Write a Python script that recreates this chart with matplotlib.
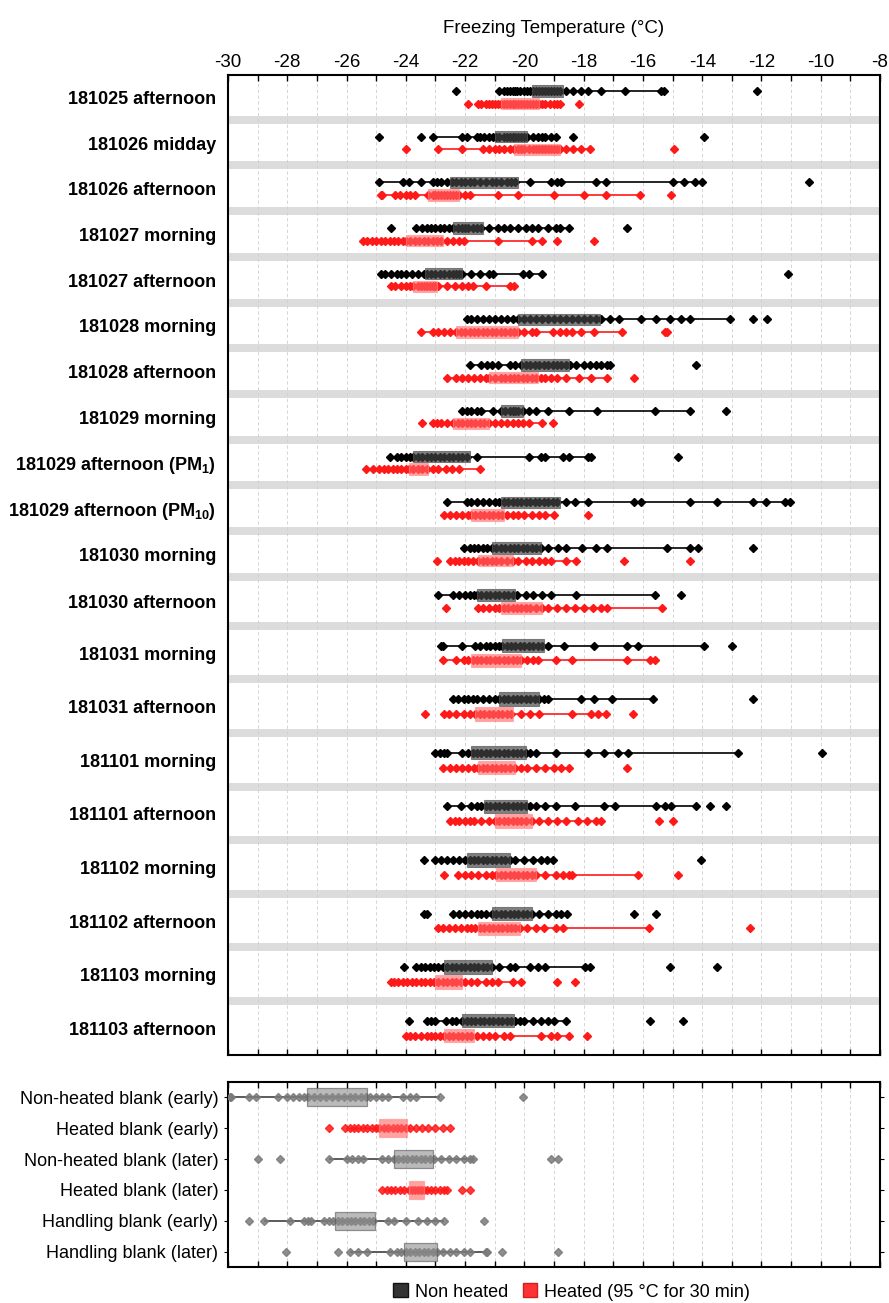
import numpy as np
import matplotlib
matplotlib.use("Agg")
import matplotlib.pyplot as plt
from matplotlib.patches import Patch
from matplotlib.ticker import MultipleLocator

plt.rcParams['font.family'] = ['Liberation Sans', 'DejaVu Sans']
plt.rcParams['axes.unicode_minus'] = False
plt.rcParams['mathtext.fontset'] = 'custom'
plt.rcParams['mathtext.bf'] = 'Liberation Sans:bold'
plt.rcParams['mathtext.rm'] = 'Liberation Sans'
plt.rcParams['mathtext.default'] = 'bf'

# ---- sample rows (top panel) ----
samples = ["181025 afternoon", "181026 midday", "181026 afternoon", "181027 morning",
           "181027 afternoon", "181028 morning", "181028 afternoon", "181029 morning",
           "181029 afternoon (PM$_{1}$)", "181029 afternoon (PM$_{10}$)", "181030 morning",
           "181030 afternoon", "181031 morning", "181031 afternoon", "181101 morning",
           "181101 afternoon", "181102 morning", "181102 afternoon", "181103 morning",
           "181103 afternoon"]

# non heated: box (q1, q3) and whisker ends
nh_q1 = [-19.75, -21.0, -22.5, -22.4, -23.35, -20.2, -20.1, -20.8, -23.75, -20.8,
         -21.1, -21.6, -20.75, -20.85, -21.8, -21.35, -21.95, -21.1, -22.7, -22.1]
nh_q3 = [-18.7, -19.9, -20.2, -21.4, -22.1, -17.45, -18.5, -20.05, -21.85, -18.8,
         -19.45, -20.3, -19.35, -19.5, -19.95, -19.9, -20.5, -19.75, -21.1, -20.35]
nh_lo = [-20.85, -23.1, -24.9, -23.65, -24.85, -21.95, -21.85, -22.1, -24.55, -22.6,
         -22.05, -22.9, -22.8, -22.4, -23.0, -22.6, -23.0, -22.4, -23.65, -23.3]
nh_hi = [-15.3, -18.95, -14.0, -18.5, -19.4, -13.05, -17.1, -14.4, -17.75, -11.05,
         -14.15, -15.6, -13.95, -15.65, -12.8, -14.2, -19.05, -18.55, -17.8, -18.6]

# heated: box (q1, q3) and whisker ends
h_q1 = [-20.8, -20.35, -23.25, -24.0, -23.75, -22.3, -21.2, -22.4, -23.9, -21.8,
        -21.55, -20.8, -21.8, -21.65, -21.55, -21.0, -20.95, -21.55, -23.0, -22.7]
h_q3 = [-19.5, -18.8, -22.2, -22.75, -22.95, -20.2, -19.55, -21.2, -23.25, -20.7,
        -20.4, -19.4, -20.1, -20.4, -20.3, -19.75, -19.6, -20.15, -22.1, -21.7]
h_lo = [-21.6, -22.9, -24.85, -25.45, -24.5, -23.5, -22.6, -23.1, -25.1, -22.7,
        -22.5, -21.55, -22.75, -22.7, -22.75, -22.5, -22.25, -22.9, -24.5, -24.0]
h_hi = [-18.8, -17.8, -16.1, -19.4, -20.35, -16.7, -17.2, -19.4, -21.5, -19.0,
        -18.25, -15.35, -15.6, -17.25, -18.5, -17.4, -16.15, -15.8, -20.1, -18.5]

nh_pts = [
    [-22.3, -20.85, -20.7, -20.6, -20.5, -20.4, -20.3, -20.25, -20.15, -20.0, -19.9, -19.8, -19.7, -19.6,
     -19.5, -19.4, -19.3, -19.2, -19.1, -19.0, -18.9, -18.8, -18.6, -18.35, -18.1, -17.85, -17.4, -16.6,
     -15.4, -15.3, -12.15],
    [-24.9, -23.5, -23.1, -22.1, -21.95, -21.6, -21.5, -21.35, -21.2, -21.05, -20.95, -20.85, -20.7, -20.6,
     -20.5, -20.4, -20.3, -20.2, -20.1, -20.0, -19.9, -19.7, -19.55, -19.4, -19.3, -19.1, -18.95, -18.35,
     -13.95],
    [-24.9, -24.1, -23.9, -23.5, -23.1, -22.95, -22.8, -22.6, -22.45, -22.3, -22.15, -22.0, -21.85, -21.7,
     -21.5, -21.3, -21.1, -20.95, -20.8, -20.6, -20.45, -20.3, -19.8, -19.1, -18.9, -18.75, -17.6, -17.25,
     -15.0, -14.6, -14.25, -14.0, -10.4],
    [-24.5, -23.65, -23.45, -23.3, -23.15, -23.0, -22.85, -22.7, -22.55, -22.4, -22.25, -22.1, -22.0, -21.9,
     -21.75, -21.6, -21.45, -21.2, -20.9, -20.7, -20.5, -20.2, -19.95, -19.75, -19.55, -19.2, -18.95, -18.8,
     -18.5, -16.55],
    [-24.85, -24.7, -24.5, -24.3, -24.15, -24.0, -23.8, -23.6, -23.4, -23.3, -23.15, -23.0, -22.85, -22.7,
     -22.55, -22.4, -22.3, -22.2, -22.1, -21.8, -21.5, -21.2, -21.05, -20.05, -19.85, -19.4, -11.1],
    [-21.95, -21.8, -21.6, -21.4, -21.2, -21.0, -20.8, -20.6, -20.4, -20.2, -20.0, -19.8, -19.6, -19.4,
     -19.2, -19.0, -18.8, -18.6, -18.4, -18.2, -18.0, -17.8, -17.6, -17.4, -17.1, -16.8, -16.05, -15.55,
     -15.1, -14.7, -14.4, -13.05, -12.3, -11.8],
    [-21.85, -21.45, -21.25, -21.1, -20.9, -20.5, -20.3, -20.1, -19.95, -19.8, -19.65, -19.5, -19.35, -19.2,
     -19.05, -18.9, -18.75, -18.6, -18.45, -18.25, -18.0, -17.8, -17.6, -17.4, -17.2, -17.1, -14.2],
    [-22.1, -21.95, -21.8, -21.6, -21.45, -21.05, -20.8, -20.65, -20.5, -20.4, -20.3, -20.2, -20.05, -19.85,
     -19.6, -19.2, -18.5, -17.55, -15.6, -14.4, -13.2],
    [-24.55, -24.3, -24.15, -24.0, -23.85, -23.75, -23.6, -23.45, -23.3, -23.15, -23.0, -22.85, -22.7, -22.55,
     -22.4, -22.25, -22.1, -21.95, -21.6, -19.85, -19.45, -19.3, -18.7, -18.5, -17.85, -17.75, -14.8],
    [-22.6, -21.95, -21.8, -21.6, -21.4, -21.2, -21.0, -20.85, -20.7, -20.55, -20.4, -20.25, -20.1, -19.95,
     -19.8, -19.65, -19.5, -19.35, -19.2, -19.05, -18.9, -18.6, -18.3, -17.85, -16.3, -16.05, -14.4, -13.5,
     -12.3, -11.85, -11.2, -11.05],
    [-22.05, -21.85, -21.7, -21.55, -21.4, -21.25, -21.1, -20.95, -20.8, -20.65, -20.5, -20.35, -20.2, -20.05,
     -19.9, -19.75, -19.6, -19.45, -19.2, -18.85, -18.6, -18.05, -17.6, -17.2, -15.2, -14.4, -14.15, -12.3],
    [-22.9, -22.4, -22.2, -22.0, -21.85, -21.7, -21.6, -21.45, -21.3, -21.15, -21.0, -20.85, -20.7, -20.55,
     -20.4, -20.25, -19.95, -19.7, -19.4, -19.1, -18.25, -15.6, -14.7],
    [-22.8, -22.75, -22.1, -21.65, -21.5, -21.3, -21.15, -21.0, -20.85, -20.75, -20.6, -20.45, -20.3, -20.15,
     -20.0, -19.85, -19.7, -19.55, -19.4, -19.2, -18.65, -17.65, -16.55, -16.15, -13.95, -13.0],
    [-22.4, -22.25, -22.05, -21.9, -21.75, -21.6, -21.4, -21.2, -21.0, -20.85, -20.7, -20.55, -20.4, -20.25,
     -20.1, -19.95, -19.8, -19.65, -19.5, -19.35, -19.2, -18.1, -17.65, -17.05, -15.65, -12.3],
    [-23.0, -22.85, -22.7, -22.6, -22.1, -21.9, -21.75, -21.6, -21.45, -21.3, -21.15, -21.0, -20.85, -20.7,
     -20.55, -20.4, -20.25, -20.1, -19.95, -19.8, -19.6, -18.95, -17.85, -17.3, -16.85, -16.5, -12.8, -9.95],
    [-22.6, -22.15, -21.8, -21.6, -21.45, -21.3, -21.15, -21.0, -20.85, -20.7, -20.55, -20.4, -20.25, -20.1,
     -19.95, -19.8, -19.6, -19.3, -18.95, -18.3, -17.3, -16.95, -15.55, -15.25, -15.05, -14.2, -13.75, -13.2],
    [-23.4, -23.0, -22.8, -22.6, -22.4, -22.2, -22.0, -21.85, -21.7, -21.55, -21.4, -21.25, -21.1, -20.95,
     -20.8, -20.65, -20.5, -20.3, -20.0, -19.7, -19.45, -19.25, -19.05, -14.05],
    [-23.4, -23.3, -22.4, -22.2, -22.0, -21.8, -21.6, -21.45, -21.3, -21.1, -20.95, -20.8, -20.65, -20.5,
     -20.35, -20.2, -20.05, -19.9, -19.75, -19.5, -19.2, -18.95, -18.75, -18.55, -16.3, -15.55],
    [-24.05, -23.65, -23.5, -23.35, -23.2, -23.05, -22.9, -22.75, -22.6, -22.45, -22.3, -22.15, -22.0, -21.85,
     -21.7, -21.55, -21.4, -21.25, -21.1, -20.85, -20.5, -20.3, -19.8, -19.55, -19.3, -17.95, -17.8, -15.1,
     -13.5],
    [-23.9, -23.3, -23.15, -23.0, -22.65, -22.45, -22.3, -22.1, -21.95, -21.8, -21.65, -21.5, -21.35, -21.2,
     -21.05, -20.9, -20.75, -20.6, -20.45, -20.3, -20.15, -20.0, -19.7, -19.45, -19.2, -19.0, -18.6, -15.75,
     -14.65],
]

h_pts = [
    [-21.9, -21.55, -21.45, -21.3, -21.2, -21.1, -21.0, -20.9, -20.8, -20.7, -20.6, -20.5, -20.4, -20.3,
     -20.2, -20.1, -20.0, -19.9, -19.8, -19.7, -19.6, -19.5, -19.4, -19.3, -19.15, -19.0, -18.9, -18.8, -18.15],
    [-24.0, -22.9, -22.1, -21.4, -21.2, -21.0, -20.85, -20.7, -20.5, -20.35, -20.2, -20.1, -20.0, -19.85,
     -19.7, -19.6, -19.5, -19.4, -19.3, -19.2, -19.1, -19.0, -18.9, -18.8, -18.6, -18.35, -18.1, -17.8, -14.95],
    [-24.85, -24.8, -24.35, -24.2, -24.0, -23.85, -23.7, -23.25, -23.1, -23.0, -22.9, -22.8, -22.7, -22.6,
     -22.5, -22.4, -22.3, -22.2, -22.0, -21.85, -20.9, -20.2, -19.0, -18.0, -17.25, -16.1, -15.05],
    [-25.45, -25.3, -25.15, -25.0, -24.85, -24.7, -24.55, -24.4, -24.25, -24.1, -24.0, -23.85, -23.7, -23.55,
     -23.4, -23.25, -23.1, -22.95, -22.8, -22.6, -22.4, -22.2, -22.05, -20.9, -19.75, -19.4, -18.9, -17.65],
    [-24.5, -24.35, -24.15, -24.0, -23.85, -23.75, -23.6, -23.5, -23.4, -23.3, -23.2, -23.1, -23.0, -22.9,
     -22.6, -22.35, -22.1, -21.9, -21.75, -21.3, -20.5, -20.35],
    [-23.5, -23.1, -22.9, -22.7, -22.5, -22.3, -22.15, -22.0, -21.85, -21.7, -21.55, -21.4, -21.25, -21.1,
     -20.95, -20.8, -20.65, -20.5, -20.35, -20.2, -20.0, -19.75, -19.6, -19.05, -18.8, -18.6, -18.4, -18.1,
     -17.65, -16.7, -15.25, -15.2],
    [-22.6, -22.3, -22.1, -21.9, -21.7, -21.5, -21.3, -21.2, -21.0, -20.8, -20.65, -20.5, -20.35, -20.2,
     -20.05, -19.9, -19.75, -19.6, -19.45, -19.3, -19.1, -18.9, -18.6, -18.15, -17.75, -17.2, -16.3],
    [-23.45, -23.1, -22.95, -22.8, -22.6, -22.4, -22.25, -22.1, -21.95, -21.8, -21.65, -21.5, -21.35, -21.2,
     -21.0, -20.8, -20.6, -20.4, -20.2, -20.05, -19.85, -19.4, -19.05],
    [-25.35, -25.1, -24.9, -24.75, -24.6, -24.45, -24.3, -24.15, -24.0, -23.9, -23.75, -23.6, -23.45, -23.3,
     -23.1, -22.9, -22.65, -22.45, -22.2, -21.5],
    [-22.7, -22.5, -22.3, -22.1, -21.9, -21.8, -21.65, -21.5, -21.35, -21.2, -21.05, -20.9, -20.75, -20.6,
     -20.4, -20.2, -20.0, -19.75, -19.5, -19.3, -19.0, -17.85],
    [-22.95, -22.5, -22.35, -22.2, -22.05, -21.9, -21.75, -21.55, -21.4, -21.25, -21.1, -20.95, -20.8, -20.6,
     -20.4, -20.2, -19.95, -19.75, -19.5, -19.3, -19.1, -18.6, -18.25, -16.65, -14.4],
    [-22.65, -21.55, -21.4, -21.2, -21.0, -20.85, -20.7, -20.55, -20.4, -20.25, -20.1, -19.95, -19.8, -19.6,
     -19.4, -19.2, -18.9, -18.6, -18.3, -18.0, -17.7, -17.4, -17.2, -15.35],
    [-22.75, -22.3, -22.05, -21.9, -21.75, -21.6, -21.45, -21.3, -21.15, -21.0, -20.85, -20.7, -20.55, -20.4,
     -20.25, -20.1, -19.9, -19.7, -19.55, -18.95, -18.4, -16.55, -15.75, -15.6],
    [-23.35, -22.7, -22.55, -22.3, -22.05, -21.85, -21.65, -21.5, -21.35, -21.2, -21.05, -20.9, -20.75, -20.6,
     -20.45, -20.1, -19.8, -19.5, -18.4, -17.75, -17.5, -17.25, -16.35],
    [-22.75, -22.5, -22.3, -22.1, -21.9, -21.7, -21.55, -21.4, -21.25, -21.1, -20.95, -20.8, -20.65, -20.5,
     -20.3, -20.1, -19.9, -19.6, -19.3, -19.0, -18.75, -18.5, -16.55],
    [-22.5, -22.35, -22.2, -22.0, -21.85, -21.7, -21.45, -21.2, -21.0, -20.85, -20.7, -20.55, -20.4, -20.25,
     -20.1, -19.95, -19.75, -19.5, -19.2, -18.9, -18.6, -18.2, -17.9, -17.6, -17.4, -15.45, -15.0],
    [-22.7, -22.25, -22.0, -21.8, -21.55, -21.3, -21.1, -20.95, -20.8, -20.65, -20.5, -20.35, -20.2, -20.05,
     -19.9, -19.75, -19.6, -19.3, -18.95, -18.7, -18.5, -18.4, -16.15, -14.8],
    [-22.9, -22.75, -22.55, -22.35, -22.15, -21.95, -21.8, -21.65, -21.5, -21.35, -21.2, -21.05, -20.9, -20.75,
     -20.6, -20.45, -20.3, -20.15, -19.9, -19.6, -19.35, -18.95, -18.7, -15.8, -12.4],
    [-24.5, -24.4, -24.25, -24.1, -23.95, -23.8, -23.65, -23.5, -23.35, -23.2, -23.05, -22.9, -22.75, -22.6,
     -22.45, -22.3, -22.15, -22.0, -21.8, -21.6, -21.3, -21.1, -20.9, -20.4, -20.1, -18.9, -18.3],
    [-24.0, -23.85, -23.7, -23.5, -23.3, -23.15, -23.0, -22.85, -22.7, -22.55, -22.4, -22.25, -22.1, -21.95,
     -21.8, -21.6, -21.4, -21.2, -21.0, -20.7, -20.5, -19.45, -19.1, -18.9, -18.5, -17.9],
]

# ---- blanks (bottom panel) ----
blanks = ["Non-heated blank (early)", "Heated blank (early)", "Non-heated blank (later)",
          "Heated blank (later)", "Handling blank (early)", "Handling blank (later)"]
blank_heated = [False, True, False, True, False, False]
blank_q1 = [-27.35, -24.9, -24.4, -23.9, -26.4, -24.05]
blank_q3 = [-25.3, -23.95, -23.1, -23.4, -25.05, -22.95]
blank_lo = [-29.95, None, -26.6, None, -28.8, -25.9]
blank_hi = [-22.85, None, -21.75, None, -22.7, -21.25]
blank_pts = [
    [-29.95, -29.9, -29.3, -29.05, -28.3, -28.0, -27.8, -27.6, -27.45, -27.3, -27.1, -26.9, -26.7, -26.5,
     -26.3, -26.1, -25.9, -25.7, -25.5, -25.35, -25.2, -25.0, -24.8, -24.6, -24.1, -23.85, -23.65, -22.85,
     -20.05],
    [-26.6, -26.05, -25.9, -25.75, -25.6, -25.45, -25.3, -25.15, -25.0, -24.9, -24.75, -24.6, -24.45, -24.3,
     -24.15, -24.0, -23.85, -23.65, -23.45, -23.25, -23.0, -22.75, -22.5],
    [-29.0, -28.25, -26.6, -26.0, -25.8, -25.6, -25.45, -24.8, -24.6, -24.4, -24.25, -24.1, -23.95, -23.8,
     -23.65, -23.5, -23.35, -23.2, -23.05, -22.8, -22.55, -22.3, -22.05, -21.85, -21.75, -19.1, -18.85],
    [-24.8, -24.65, -24.5, -24.35, -24.2, -24.05, -23.9, -23.8, -23.7, -23.6, -23.5, -23.4, -23.3, -23.15,
     -23.0, -22.85, -22.7, -22.6, -22.1, -21.85],
    [-29.3, -28.8, -27.9, -27.45, -27.3, -27.2, -26.75, -26.6, -26.45, -26.3, -26.15, -26.0, -25.85, -25.7,
     -25.55, -25.4, -25.25, -25.1, -24.6, -24.4, -24.0, -23.6, -23.3, -23.0, -22.7, -21.35],
    [-28.05, -26.3, -25.9, -25.6, -25.3, -24.55, -24.3, -24.15, -24.0, -23.85, -23.7, -23.55, -23.4, -23.25,
     -23.1, -22.95, -22.75, -22.5, -22.3, -22.05, -21.85, -21.3, -21.25, -20.75, -18.85],
]

BLACK = '#000000'
RED = '#ff1a1a'
FS = 13

fig = plt.figure(figsize=(8.89, 13.03), dpi=100)
ax = fig.add_axes([0.2565, 0.1903, 0.7334, 0.7521])
axb = fig.add_axes([0.2565, 0.0276, 0.7334, 0.1420])

# row layout of the top panel (rows get a bit taller further down)
row_h = np.r_[np.full(11, 45.7), 49.0, np.full(8, 53.6)]
tops = 74 + np.r_[0, np.cumsum(row_h)[:-1]]
y_nh = tops + 0.37 * row_h
y_h = tops + 0.645 * row_h
y_lab = tops + 0.51 * row_h
box_h = 0.25 * row_h

for b in tops[1:]:
    ax.axhspan(b - 4, b + 4, color='#dcdcdc', lw=0, zorder=1)

for i in range(len(samples)):
    ax.hlines(y_nh[i], nh_lo[i], nh_hi[i], color=BLACK, lw=1.2, zorder=3)
    ax.plot(nh_pts[i], np.full(len(nh_pts[i]), y_nh[i]), 'D', ms=4.2, color=BLACK, zorder=4)
    ax.barh(y_nh[i], nh_q3[i] - nh_q1[i], left=nh_q1[i], height=box_h[i],
            color='#444444', alpha=0.68, edgecolor='#555555', lw=0.8, zorder=5)

    ax.hlines(y_h[i], h_lo[i], h_hi[i], color=RED, lw=1.2, zorder=3)
    ax.plot(h_pts[i], np.full(len(h_pts[i]), y_h[i]), 'D', ms=4.2, color=RED, zorder=4)
    ax.barh(y_h[i], h_q3[i] - h_q1[i], left=h_q1[i], height=box_h[i],
            color='#ff6464', alpha=0.6, edgecolor='#ff8c8c', lw=0.8, zorder=5)

ax.set_xlim(-30, -8)
ax.set_ylim(1055, 75)
ax.xaxis.set_major_locator(MultipleLocator(2))
ax.xaxis.set_minor_locator(MultipleLocator(1))
ax.xaxis.tick_top()
ax.xaxis.set_label_position('top')
ax.set_xlabel('Freezing Temperature (°C)', fontsize=FS + 0.5, labelpad=15)
ax.tick_params(axis='x', which='both', direction='in', top=True, bottom=True,
               length=4, width=1, labelsize=FS + 0.5, pad=3)
ax.set_yticks(y_lab)
ax.set_yticklabels(samples, fontsize=FS, fontweight='bold')
ax.tick_params(axis='y', length=0, pad=8.5)
ax.grid(axis='x', which='both', color='#cfcfcf', lw=0.6, ls=(0, (4, 3)), zorder=0)

# bottom panel
yb = np.arange(len(blanks))
for i in range(len(blanks)):
    if blank_heated[i]:
        pc, bc, ec = RED, '#ff6464', '#ff8c8c'
    else:
        pc, bc, ec = '#7a7a7a', '#8c8c8c', '#555555'
    if blank_lo[i] is not None:
        axb.hlines(yb[i], blank_lo[i], blank_hi[i], color='#404040', lw=1.2, zorder=3)
    axb.plot(blank_pts[i], np.full(len(blank_pts[i]), yb[i]), 'D', ms=4.2, color=pc,
             alpha=0.85, zorder=4)
    axb.barh(yb[i], blank_q3[i] - blank_q1[i], left=blank_q1[i], height=0.58,
             color=bc, alpha=0.6, edgecolor=ec, lw=0.9, zorder=5)

axb.set_xlim(-30, -8)
axb.set_ylim(5.5, -0.5)
axb.xaxis.set_major_locator(MultipleLocator(2))
axb.xaxis.set_minor_locator(MultipleLocator(1))
axb.tick_params(axis='x', which='both', direction='in', top=True, bottom=True,
                length=4, width=1, labelbottom=False)
axb.set_yticks(yb)
axb.set_yticklabels(blanks, fontsize=FS)
axb.tick_params(axis='y', direction='out', left=True, right=True, length=3, pad=4)
axb.grid(axis='x', which='both', color='#cfcfcf', lw=0.6, ls=(0, (4, 3)), zorder=0)

for a in (ax, axb):
    for s in a.spines.values():
        s.set_linewidth(1.5)

handles = [Patch(facecolor='#333333', edgecolor='#111111', label='Non heated'),
           Patch(facecolor='#ff3333', edgecolor='#cc2222', label='Heated (95 °C for 30 min)')]
fig.legend(handles=handles, loc='center', bbox_to_anchor=(0.643, 0.0085), ncol=2,
           frameon=False, fontsize=FS, handlelength=0.8, handleheight=0.8,
           handletextpad=0.4, columnspacing=0.8)

fig.savefig('out.png', dpi=100)
